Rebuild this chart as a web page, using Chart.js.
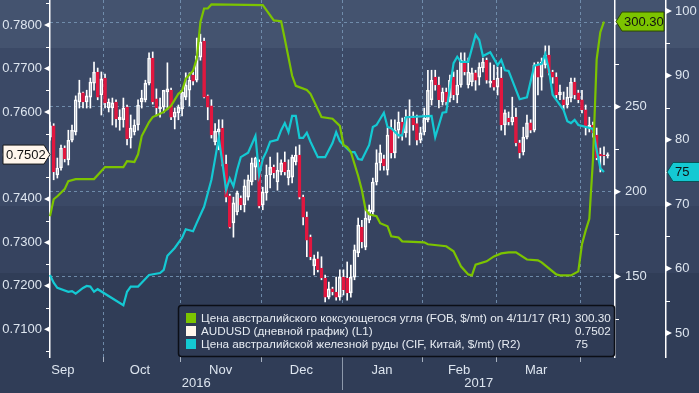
<!DOCTYPE html>
<html>
<head>
<meta charset="utf-8">
<script src="https://cdn.jsdelivr.net/npm/chart.js@4.4.1/dist/chart.umd.min.js"></script>
<style>
  html, body { margin: 0; padding: 0; background: #303d57; }
  canvas { display: block; }
</style>
</head>
<body>
<canvas id="chart" width="699" height="393"></canvas>
<script>
// trading days (weekdays) from 12 Sep 2016, the category axis
const days = [];
for (let d = new Date(Date.UTC(2016, 8, 12)); days.length < 155; d.setUTCDate(d.getUTCDate() + 1)) {
  const wd = d.getUTCDay();
  if (wd !== 0 && wd !== 6) days.push(d.toISOString().slice(0, 10));
}

const monthTicks = { 4: 'Sep', 25: 'Oct', 47: 'Nov', 69: 'Dec', 91: 'Jan', 112: 'Feb', 133: 'Mar' };
const yearLabels = ['2016', '2017'];

// AUDUSD daily candles (L1)
const audOpen = [
  .7542,.7568,.7455,.7471,.7517,.7490,.7535,.7554,.7623,.7644,
  .7623,.7634,.7666,.7692,.7639,.7678,.7609,.7609,.7623,.7582,
  .7582,.7611,.7540,.7554,.7570,.7623,.7628,.7666,.7724,.7630,
  .7607,.7611,.7646,.7650,.7588,.7598,.7607,.7634,.7650,.7685,
  .7673,.7726,.7763,.7637,.7614,.7531,.7554,.7563,.7480,.7407,
  .7345,.7370,.7402,.7386,.7404,.7439,.7473,.7485,.7386,.7414,
  .7455,.7473,.7439,.7462,.7485,.7448,.7450,.7485,.7501,.7404,
  .7358,.7312,.7246,.7262,.7241,.7218,.7174,.7193,.7186,.7174,
  .7220,.7218,.7184,.7220,.7276,.7335,.7289,.7351,.7370,.7439,
  .7483,.7492,.7466,.7563,.7506,.7558,.7577,.7552,.7588,.7586,
  .7573,.7535,.7554,.7582,.7628,.7680,.7662,.7623,.7646,.7632,
  .7680,.7639,.7662,.7713,.7662,.7669,.7690,.7680,.7701,.7719,
  .7666,.7673,.7657,.7678,.7570,.7586,.7577,.7588,.7529,.7508,
  .7542,.7575,.7558,.7708,.7680,.7708,.7731,.7692,.7680,.7639,
  .7628,.7616,.7632,.7669,.7644,.7628,.7605,.7565,.7570,.7547,
  .7503,.7501,.7499
];
const audHigh = [
  .7577,.7573,.7494,.7524,.7522,.7558,.7570,.7637,.7673,.7646,
  .7650,.7678,.7715,.7701,.7692,.7687,.7630,.7632,.7628,.7605,
  .7632,.7616,.7593,.7582,.7628,.7650,.7673,.7736,.7738,.7653,
  .7632,.7650,.7713,.7655,.7609,.7616,.7650,.7690,.7690,.7692,
  .7770,.7779,.7770,.7639,.7628,.7573,.7582,.7582,.7501,.7411,
  .7404,.7418,.7407,.7444,.7455,.7494,.7496,.7490,.7427,.7478,
  .7496,.7478,.7506,.7490,.7508,.7490,.7501,.7520,.7524,.7409,
  .7370,.7317,.7271,.7278,.7267,.7225,.7209,.7197,.7220,.7237,
  .7237,.7255,.7248,.7294,.7356,.7351,.7375,.7386,.7448,.7513,
  .7524,.7501,.7563,.7582,.7582,.7600,.7586,.7605,.7628,.7600,
  .7593,.7565,.7609,.7696,.7696,.7696,.7680,.7655,.7655,.7685,
  .7692,.7696,.7736,.7736,.7724,.7701,.7696,.7713,.7724,.7724,
  .7713,.7708,.7703,.7703,.7605,.7600,.7634,.7609,.7535,.7565,
  .7593,.7582,.7713,.7715,.7724,.7752,.7752,.7696,.7690,.7662,
  .7646,.7657,.7678,.7678,.7650,.7650,.7616,.7588,.7577,.7563,
  .7517,.7520,.7506
];
const audLow = [
  .7535,.7444,.7448,.7466,.7485,.7478,.7531,.7547,.7609,.7609,
  .7609,.7609,.7650,.7628,.7593,.7609,.7600,.7570,.7565,.7558,
  .7565,.7524,.7517,.7547,.7558,.7609,.7623,.7662,.7618,.7591,
  .7588,.7598,.7605,.7582,.7561,.7582,.7591,.7628,.7614,.7662,
  .7669,.7719,.7632,.7582,.7540,.7524,.7513,.7476,.7393,.7333,
  .7312,.7363,.7375,.7370,.7397,.7432,.7444,.7379,.7375,.7397,
  .7425,.7448,.7420,.7455,.7455,.7432,.7437,.7478,.7400,.7340,
  .7267,.7260,.7225,.7232,.7214,.7163,.7170,.7179,.7167,.7167,
  .7179,.7167,.7174,.7214,.7267,.7287,.7283,.7345,.7363,.7432,
  .7466,.7466,.7455,.7494,.7494,.7540,.7535,.7542,.7524,.7558,
  .7524,.7529,.7547,.7577,.7616,.7650,.7609,.7616,.7616,.7623,
  .7628,.7621,.7657,.7685,.7655,.7660,.7650,.7662,.7692,.7666,
  .7657,.7650,.7639,.7558,.7547,.7570,.7570,.7522,.7494,.7501,
  .7538,.7552,.7554,.7639,.7650,.7701,.7685,.7666,.7632,.7628,
  .7605,.7609,.7623,.7630,.7621,.7598,.7547,.7554,.7542,.7490,
  .7462,.7478,.7494
];
const audClose = [
  .7568,.7462,.7471,.7517,.7492,.7535,.7558,.7628,.7644,.7623,
  .7637,.7669,.7692,.7634,.7676,.7621,.7623,.7621,.7584,.7588,
  .7609,.7538,.7563,.7570,.7616,.7632,.7666,.7724,.7623,.7609,
  .7611,.7650,.7653,.7588,.7600,.7611,.7646,.7662,.7673,.7671,
  .7729,.7761,.7634,.7611,.7547,.7556,.7561,.7480,.7404,.7335,
  .7391,.7414,.7386,.7430,.7444,.7483,.7494,.7384,.7416,.7455,
  .7473,.7460,.7466,.7483,.7462,.7466,.7496,.7501,.7404,.7358,
  .7305,.7267,.7262,.7237,.7218,.7174,.7193,.7186,.7174,.7220,
  .7191,.7184,.7220,.7283,.7340,.7301,.7356,.7375,.7439,.7483,
  .7506,.7476,.7547,.7506,.7558,.7577,.7547,.7588,.7586,.7570,
  .7535,.7552,.7586,.7650,.7673,.7662,.7628,.7646,.7623,.7673,
  .7639,.7662,.7719,.7692,.7692,.7690,.7673,.7703,.7715,.7673,
  .7671,.7657,.7678,.7570,.7598,.7577,.7588,.7529,.7506,.7542,
  .7575,.7558,.7708,.7680,.7715,.7731,.7690,.7680,.7639,.7646,
  .7616,.7634,.7669,.7639,.7628,.7605,.7565,.7570,.7552,.7494,
  .7499,.7499,.7502
];

// coking coal FOB, $/mt (R1): [day index, value]
const coalPoints = [
  [0,185.5],[1,195.5],[2,197.3],[4,201.5],[5,206.2],[7,207.4],[12,207.4],[15,214.5],[20,214.5],
  [21,218],[23,217.5],[24,222],[25,232.8],[27,241],[28,244],[30,246],[31,247],[33,250.6],
  [35,257.7],[36,259.5],[37,266.6],[39,271.3],[40,278.4],[41,300],[42,308],[43,308],[44,310.4],
  [58,310],[61,301],[63,300.5],[64,290],[66,268.3],[67,262.4],[70,260],[71,257.7],[74,244],
  [77,243],[79,238.8],[80,227.5],[81,226.3],[82,223.4],[84,209.2],[85,201],[86,189.6],[87,186.7],
  [89,185.5],[90,181.4],[92,179.6],[93,173.7],[95,173],[96,170.7],[102,170.1],[103,169],[108,167.8],
  [110,164.8],[112,156],[114,151.2],[115,150.6],[116,157],[119,158.9],[121,161.8],[123,163.6],
  [125,164.2],[127,164.2],[130,160],[133,159.5],[134,158.3],[138,151.2],[139,150.6],[142,150.6],
  [144,153],[145,169],[146,177],[147,184],[148,219],[149,278],[150,294],[151,300.3]
];

// iron ore CIF China, $/mt (R2): [day index, value]
const orePoints = [
  [0,59.0],[1,57.8],[2,57.0],[5,56.4],[6,56.5],[7,56.1],[9,57.0],[10,57.3],[11,57.2],[12,56.4],
  [13,56.8],[20,54.3],[21,56.4],[22,57.2],[24,57.2],[25,57.8],[27,59.0],[30,59.3],[31,59.8],
  [32,62.0],[34,63.2],[36,64.8],[37,66.1],[39,65.8],[40,67.1],[42,69.6],[44,73.8],[46,80.3],
  [47,76.4],[48,72.2],[49,74.0],[50,72.8],[51,75.3],[52,77.3],[54,78.0],[56,80.6],[57,74.5],
  [58,77.0],[59,78.2],[60,79.7],[62,80.0],[63,81.5],[64,82.6],[65,81.2],[66,83.7],[67,83.7],
  [68,80.3],[69,80.3],[70,81.1],[71,79.7],[73,77.3],[75,77.3],[77,79.5],[78,81.2],[79,79.8],
  [80,79.2],[82,78.1],[83,78.1],[84,77.0],[85,76.9],[87,79.2],[88,82.0],[89,82.3],[91,84.2],
  [92,82.0],[93,81.8],[95,80.7],[96,80.7],[97,83.5],[104,83.7],[105,80.4],[107,84.2],[108,84.3],
  [110,91.9],[111,92.9],[112,92.1],[114,92.1],[116,96.3],[117,95.5],[118,93.0],[120,93.6],
  [122,91.6],[123,92.4],[124,90.8],[125,90.7],[128,86.3],[130,86.6],[132,91.5],[134,91.8],
  [135,93.3],[136,90.8],[137,87.0],[138,86.2],[140,84.6],[141,82.9],[142,82.6],[143,83.1],
  [144,82.3],[146,82.0],[148,81.7],[149,78.4],[150,75.6],[151,75.0]
];

const leftTicks = [0.71, 0.72, 0.73, 0.74, 0.75, 0.76, 0.77, 0.78];
const leftMinor = [0.705, 0.715, 0.725, 0.735, 0.745, 0.755, 0.765, 0.775, 0.785];
const coalTicks = [150, 200, 250, 300];
const coalMinor = [125, 175, 225, 275];
const oreTicks = [50, 60, 70, 80, 90, 100];
const oreMinor = [55, 65, 75, 85, 95];

const legendNames = [
  'Цена австралийского коксующегося угля (FOB, $/mt) on 4/11/17 (R1)',
  'AUDUSD (дневной график) (L1)',
  'Цена австралийской железной руды (CIF, Китай, $/mt) (R2)'
];

const GREEN = '#7cc400';
const CYAN = '#14c9d3';
const RED = '#e2173f';
const WHITE = '#ffffff';
const CREAM = '#fff6ec';
const LABEL = '#dde5ef';
const GRID = 'rgba(120,150,182,0.85)';
const FONT = '"Liberation Sans", Arial, sans-serif';

const isUp = audClose.map((c, i) => c >= audOpen[i]);
const monthStart = days.map((d, i) => i > 0 && d.slice(5, 7) !== days[i - 1].slice(5, 7));

const bandPlugin = {
  id: 'bands',
  beforeDraw(chart) {
    const ctx = chart.ctx;
    const w = chart.width;
    ctx.save();
    ctx.fillStyle = '#44536f'; ctx.fillRect(0, 0, w, 48);
    ctx.fillStyle = '#3b4966'; ctx.fillRect(0, 48, w, 158);
    ctx.fillStyle = '#36435f'; ctx.fillRect(0, 206, w, 67);
    ctx.fillStyle = '#303d57'; ctx.fillRect(0, 273, w, chart.height - 273);
    ctx.restore();
  },
  // dashed month separators and their tick marks
  beforeDatasetsDraw(chart) {
    const ctx = chart.ctx;
    const x = chart.scales.x;
    const area = chart.chartArea;
    ctx.save();
    ctx.lineWidth = 1;
    monthStart.forEach((m, i) => {
      if (!m) return;
      const xp = Math.round((x.getPixelForValue(i - 1) + x.getPixelForValue(i)) / 2) + 0.5;
      ctx.strokeStyle = GRID;
      ctx.setLineDash([3, 3]);
      ctx.beginPath();
      ctx.moveTo(xp, area.top);
      ctx.lineTo(xp, area.bottom);
      ctx.stroke();
      ctx.setLineDash([]);
      ctx.strokeStyle = '#a9b3c2';
      ctx.beginPath();
      ctx.moveTo(xp, area.bottom);
      ctx.lineTo(xp, area.bottom + 5);
      ctx.stroke();
    });
    ctx.restore();
  }
};

function tri(ctx, x, y, dir) {
  ctx.beginPath();
  ctx.moveTo(x, y - 3);
  ctx.lineTo(x + dir * 6, y);
  ctx.lineTo(x, y + 3);
  ctx.closePath();
  ctx.fill();
}

function valueBox(ctx, tipX, y, dir, w, fill, stroke, text) {
  // dir -1: arrow points left (box to the right), +1: arrow points right (box to the left)
  const h = 19, a = 6;
  ctx.beginPath();
  ctx.moveTo(tipX, y);
  ctx.lineTo(tipX - dir * a, y - h / 2);
  ctx.lineTo(tipX - dir * (a + w), y - h / 2);
  ctx.lineTo(tipX - dir * (a + w), y + h / 2);
  ctx.lineTo(tipX - dir * a, y + h / 2);
  ctx.closePath();
  ctx.fillStyle = fill;
  ctx.fill();
  ctx.strokeStyle = stroke;
  ctx.lineWidth = 1;
  ctx.stroke();
  ctx.fillStyle = '#111';
  ctx.font = '13px ' + FONT;
  ctx.textBaseline = 'middle';
  ctx.textAlign = 'left';
  const x0 = dir < 0 ? tipX + a + 2 : tipX - a - w + 3;
  ctx.fillText(text, x0, y + 0.5);
}

const decorPlugin = {
  id: 'decor',
  afterDraw(chart) {
    const ctx = chart.ctx;
    const { x, y, y1, y2 } = chart.scales;
    const area = chart.chartArea;
    ctx.save();

    // axis tick markers
    ctx.fillStyle = WHITE;
    ctx.strokeStyle = WHITE;
    ctx.lineWidth = 1;
    leftTicks.forEach(v => tri(ctx, area.left, y.getPixelForValue(v), -1));
    coalTicks.forEach(v => tri(ctx, y1.left, y1.getPixelForValue(v), 1));
    oreTicks.forEach(v => tri(ctx, y2.left, y2.getPixelForValue(v), 1));
    ctx.beginPath();
    leftMinor.forEach(v => { const p = Math.round(y.getPixelForValue(v)) + 0.5; ctx.moveTo(area.left - 4, p); ctx.lineTo(area.left, p); });
    coalMinor.forEach(v => { const p = Math.round(y1.getPixelForValue(v)) + 0.5; ctx.moveTo(y1.left, p); ctx.lineTo(y1.left + 4, p); });
    oreMinor.forEach(v => { const p = Math.round(y2.getPixelForValue(v)) + 0.5; ctx.moveTo(y2.left, p); ctx.lineTo(y2.left + 4, p); });
    ctx.stroke();

    // year divider and year labels
    const jan = monthStart.indexOf(true, 60);
    const xDiv = Math.round((x.getPixelForValue(jan - 1) + x.getPixelForValue(jan)) / 2) + 0.5;
    ctx.strokeStyle = '#8d99ab';
    ctx.beginPath();
    ctx.moveTo(xDiv, area.bottom);
    ctx.lineTo(xDiv, area.bottom + 33);
    ctx.stroke();
    ctx.fillStyle = LABEL;
    ctx.font = '13px ' + FONT;
    ctx.textAlign = 'center';
    ctx.textBaseline = 'middle';
    ctx.fillText(yearLabels[0], (area.left + xDiv) / 2, 383);
    ctx.fillText(yearLabels[1], (xDiv + area.right) / 2, 383);

    // legend box
    const lx = 178.5, ly = 305.5, lw = 436, lh = 51;
    ctx.beginPath();
    ctx.roundRect(lx, ly, lw, lh, 3);
    ctx.fillStyle = '#2f3b55';
    ctx.fill();
    ctx.strokeStyle = '#0b0e16';
    ctx.lineWidth = 1.5;
    ctx.stroke();
    const swatches = [GREEN, CREAM, CYAN];
    const lastCoal = coalPoints[coalPoints.length - 1][1];
    const lastOre = orePoints[orePoints.length - 1][1];
    const lastAud = audClose[audClose.length - 1];
    const values = [lastCoal.toFixed(2), lastAud.toFixed(4), lastOre.toFixed(0)];
    ctx.font = '11.7px ' + FONT;
    ctx.textAlign = 'left';
    legendNames.forEach((name, k) => {
      const cy = 318 + k * 13;
      ctx.fillStyle = swatches[k];
      ctx.fillRect(186, cy - 5, 10, 10);
      ctx.fillStyle = '#e6ebf2';
      ctx.fillText(name, 201, cy + 0.5);
      ctx.fillText(values[k], 575, cy + 0.5);
    });

    // last value boxes
    valueBox(ctx, area.left, y.getPixelForValue(lastAud), 1, 41, CREAM, '#1b1b1b', values[1]);
    valueBox(ctx, y1.left + 1, y1.getPixelForValue(lastCoal), -1, 42, GREEN, '#2d4a00', values[0]);
    valueBox(ctx, y2.left + 1, y2.getPixelForValue(lastOre), -1, 33, CYAN, '#0a5357', values[2]);
    ctx.restore();
  }
};

function sideTicks(list) {
  return scale => { scale.ticks = list.map(v => ({ value: v })); };
}

// fixed axis size, no label overhang padding
function fixSize(w, h) {
  return scale => {
    if (w !== null) scale.width = w;
    if (h !== null) scale.height = h;
    scale.paddingTop = 0;
    scale.paddingBottom = 0;
    scale.paddingLeft = 0;
    scale.paddingRight = 0;
  };
}

new Chart(document.getElementById('chart'), {
  type: 'bar',
  data: {
    labels: days,
    datasets: [
      {
        type: 'line', label: 'coal', yAxisID: 'y1', order: 0,
        data: coalPoints.map(([i, v]) => ({ x: days[i], y: v })),
        borderColor: GREEN, borderWidth: 2.2, pointRadius: 0, tension: 0
      },
      {
        type: 'line', label: 'ore', yAxisID: 'y2', order: 0,
        data: orePoints.map(([i, v]) => ({ x: days[i], y: v })),
        borderColor: CYAN, borderWidth: 2.2, pointRadius: 0, tension: 0
      },
      {
        label: 'body', yAxisID: 'y', order: 1, grouped: false,
        data: audOpen.map((o, i) => [o, audClose[i]]),
        backgroundColor: isUp.map(u => u ? 'rgba(0,0,0,0)' : RED),
        borderColor: isUp.map(u => u ? WHITE : RED),
        borderWidth: 1, borderSkipped: false, barThickness: 3
      },
      {
        label: 'wickHigh', yAxisID: 'y', order: 2, grouped: false,
        data: audHigh.map((h, i) => [Math.max(audOpen[i], audClose[i]), h]),
        backgroundColor: WHITE, barThickness: 1
      },
      {
        label: 'wickLow', yAxisID: 'y', order: 2, grouped: false,
        data: audLow.map((l, i) => [l, Math.min(audOpen[i], audClose[i])]),
        backgroundColor: WHITE, barThickness: 1
      }
    ]
  },
  options: {
    responsive: false,
    animation: false,
    devicePixelRatio: 1,
    layout: { padding: 0, autoPadding: false },
    plugins: { legend: { display: false }, tooltip: { enabled: false } },
    scales: {
      x: {
        type: 'category',
        offset: false,
        afterFit: fixSize(null, 36),
        grid: { display: false, drawTicks: true, tickLength: 5 },
        border: { display: false },
        ticks: {
          autoSkip: false, maxRotation: 0, minRotation: 0, padding: 1,
          labelOffset: -1.8,
          color: LABEL, font: { family: FONT, size: 13 },
          callback: (v, i) => monthTicks[i] || ''
        }
      },
      y: {
        position: 'left',
        min: 0.70364, max: 0.78575,
        afterBuildTicks: sideTicks(leftTicks),
        afterFit: fixSize(50, null),
        grid: { display: false, drawTicks: false },
        border: { color: WHITE, width: 1.5 },
        ticks: { padding: 8, color: LABEL, font: { family: FONT, size: 13 }, callback: v => v.toFixed(4) }
      },
      y1: {
        position: 'right', weight: 0,
        min: 102.5, max: 313,
        afterBuildTicks: sideTicks(coalTicks),
        afterFit: fixSize(51, null),
        grid: { display: true, drawOnChartArea: true, drawTicks: false, color: GRID, lineWidth: 1 },
        border: { color: WHITE, width: 1.5, dash: [3, 3] },
        ticks: { padding: 10, color: LABEL, font: { family: FONT, size: 13 }, callback: v => v === 300 ? '' : String(v) }
      },
      y2: {
        position: 'right', weight: 1,
        min: 46.27, max: 101.71,
        afterBuildTicks: sideTicks(oreTicks),
        afterFit: fixSize(33, null),
        grid: { display: false, drawTicks: false },
        border: { color: WHITE, width: 1.5 },
        ticks: { padding: 9, color: LABEL, font: { family: FONT, size: 13 }, callback: v => String(v) }
      }
    }
  },
  plugins: [bandPlugin, decorPlugin]
});
</script>
</body>
</html>
